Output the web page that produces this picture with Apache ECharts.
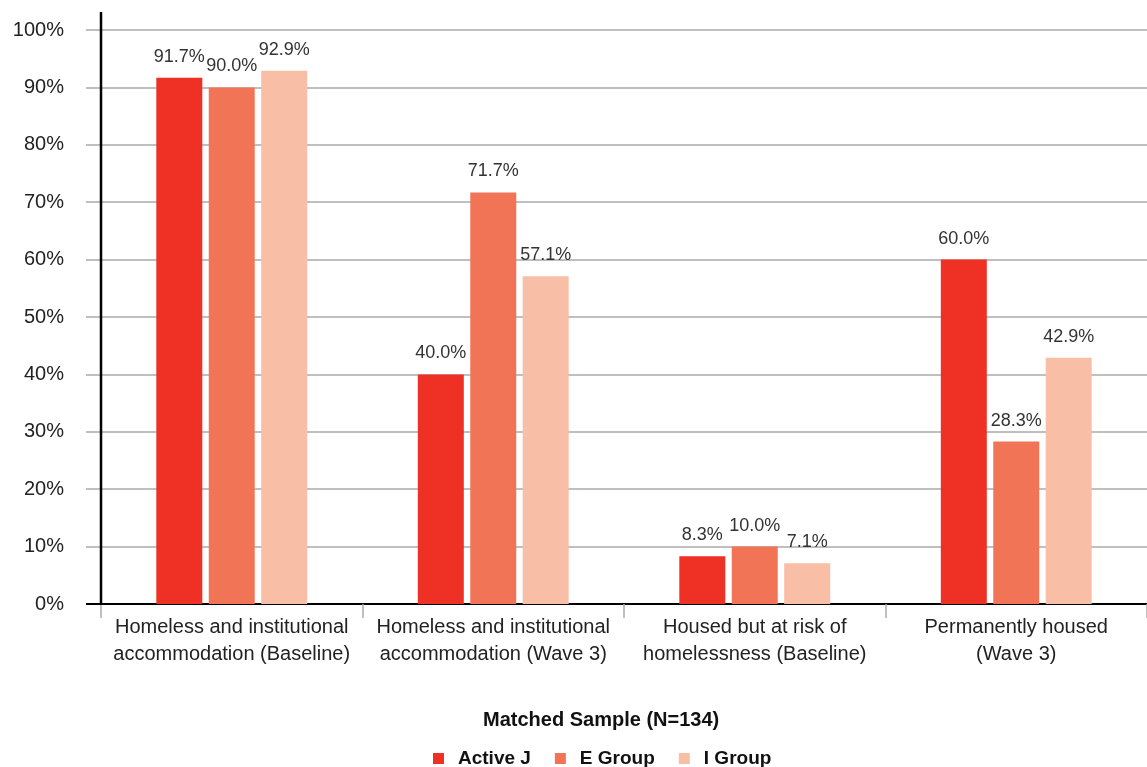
<!DOCTYPE html>
<html>
<head>
<meta charset="utf-8">
<script src="https://cdn.jsdelivr.net/npm/echarts@6/dist/echarts.min.js"></script>
<style>
  html, body { margin: 0; padding: 0; background: #fff; }
  #chart { width: 1147px; height: 767px; }
</style>
</head>
<body>
<div id="chart"></div>
<script>
// Housing status by group, matched sample
const categories = [
  'Homeless and institutional\naccommodation (Baseline)',
  'Homeless and institutional\naccommodation (Wave 3)',
  'Housed but at risk of\nhomelessness (Baseline)',
  'Permanently housed\n(Wave 3)'
];
const activeJ = [91.7, 40.0, 8.3, 60.0];
const eGroup = [90.0, 71.7, 10.0, 28.3];
const iGroup = [92.9, 57.1, 7.1, 42.9];
const seriesNames = ['Active J', 'E Group', 'I Group'];
const colors = ['#EE3124', '#F27457', '#F9BEA6'];
const yTicks = [0, 10, 20, 30, 40, 50, 60, 70, 80, 90, 100];

const FONT = '"Liberation Sans", Arial, sans-serif';

const chart = echarts.init(document.getElementById('chart'), null, { renderer: 'canvas' });

function barSeries(name, data, color) {
  return {
    name: name,
    type: 'bar',
    data: data,
    barWidth: 46,
    barGap: '14%',
    itemStyle: { color: color },
    label: {
      show: true,
      position: 'top',
      distance: 12,
      formatter: p => p.value.toFixed(1) + '%',
      color: '#333',
      fontSize: 18,
      fontFamily: FONT
    }
  };
}

chart.setOption({
  animation: false,
  backgroundColor: '#fff',
  color: colors,
  title: {
    text: 'Matched Sample (N=134)',
    left: 478,
    top: 705,
    textStyle: { fontSize: 20, fontWeight: 'bold', color: '#111', fontFamily: FONT }
  },
  legend: {
    data: seriesNames,
    left: 428,
    top: 744,
    itemWidth: 11,
    itemHeight: 11,
    itemGap: 24,
    icon: 'rect',
    textStyle: { fontSize: 19, fontWeight: 'bold', color: '#111', fontFamily: FONT, padding: [0, 0, 0, 9] }
  },
  grid: { left: 101, right: 0, top: 30, bottom: 163, containLabel: false },
  xAxis: {
    type: 'category',
    data: categories,
    axisLine: { show: true, lineStyle: { color: '#000', width: 2 } },
    axisTick: { show: true, alignWithLabel: false, length: 14, lineStyle: { color: '#aaa', width: 1.5 } },
    axisLabel: {
      interval: 0,
      margin: 10,
      fontSize: 20,
      lineHeight: 27,
      color: '#222',
      fontFamily: FONT
    },
    splitLine: { show: false }
  },
  yAxis: {
    type: 'value',
    min: yTicks[0],
    max: yTicks[yTicks.length - 1],
    interval: 10,
    axisLine: { show: false },
    axisTick: { show: true, inside: false, length: 15, lineStyle: { color: '#aaa', width: 1.5 } },
    axisLabel: {
      margin: 37,
      fontSize: 20,
      color: '#222',
      fontFamily: FONT,
      formatter: v => v + '%'
    },
    splitLine: { show: true, lineStyle: { color: '#aaa', width: 1.5 } }
  },
  series: [
    barSeries(seriesNames[0], activeJ, colors[0]),
    barSeries(seriesNames[1], eGroup, colors[1]),
    barSeries(seriesNames[2], iGroup, colors[2])
  ]
});

// Vertical axis line runs a little above the top gridline; base line extends left under the ticks
const origin = chart.convertToPixel({ gridIndex: 0 }, [0, 0]);
const topPx = chart.convertToPixel({ yAxisIndex: 0 }, yTicks[yTicks.length - 1]);
const gridLeft = 101;
chart.setOption({
  graphic: [
    {
      type: 'line',
      z: 100,
      shape: { x1: gridLeft, y1: topPx - 18, x2: gridLeft, y2: origin[1] + 1 },
      style: { stroke: '#000', lineWidth: 2.5 }
    },
    {
      type: 'line',
      z: 100,
      shape: { x1: gridLeft - 15, y1: origin[1], x2: gridLeft, y2: origin[1] },
      style: { stroke: '#000', lineWidth: 2 }
    }
  ]
});
</script>
</body>
</html>
